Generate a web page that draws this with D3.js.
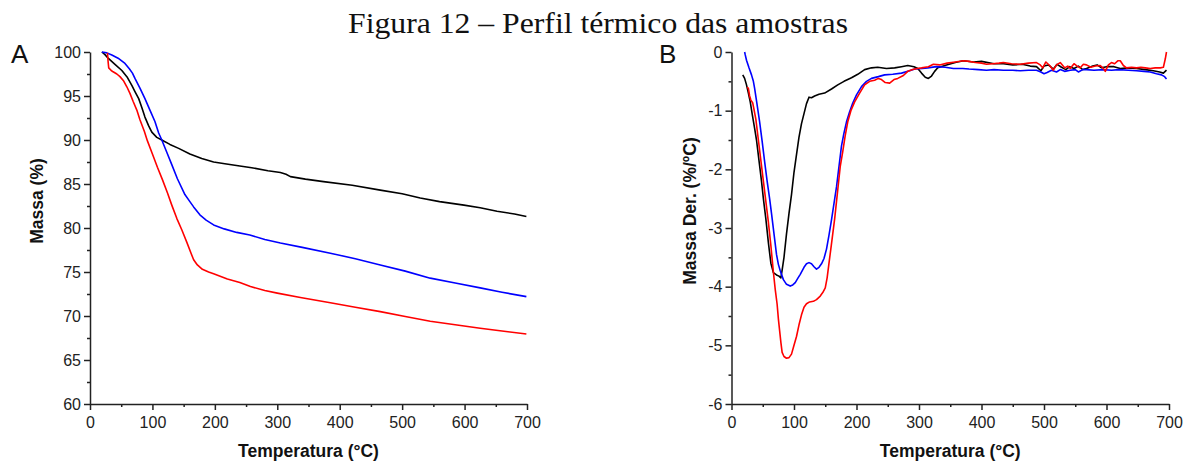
<!DOCTYPE html>
<html>
<head>
<meta charset="utf-8">
<script src="https://cdn.jsdelivr.net/npm/d3@7"></script>
<style>
    body { margin: 0; background: #fff; }
    .axis path, .axis line { stroke: #222; stroke-width: 1.5px; }
    .axis text { font-family: "Liberation Sans", Arial, sans-serif; font-size: 16px; fill: #222; }
    .label { font-family: "Liberation Sans", Arial, sans-serif; font-weight: bold; font-size: 17.5px; fill: #111; }
    .panel { font-family: "Liberation Sans", Arial, sans-serif; font-size: 26px; fill: #111; }
    .title { font-family: "Liberation Serif", "Times New Roman", serif; font-size: 30px; fill: #111; }
</style>
</head>
<body>
<div id="chart"></div>
<script>
// temperature axis (°C)
var tempTicks = [0, 100, 200, 300, 400, 500, 600, 700];
var tempMinor = [50, 150, 250, 350, 450, 550, 650];
var massTicks = [60, 65, 70, 75, 80, 85, 90, 95, 100];
var massMinor = [62.5, 67.5, 72.5, 77.5, 82.5, 87.5, 92.5, 97.5];
var derTicks = [-6, -5, -4, -3, -2, -1, 0];
var derMinor = [-5.5, -4.5, -3.5, -2.5, -1.5, -0.5];

// A: TG curves, [temperature, mass %]
var blackTG = [[19,100],[24,99.7],[29,99.3],[40,98.6],[51,97.9],[60,97.1],[67,96.2],[72,95.5],[78,94.7],[83,93.7],[88,92.6],[94,91.6],[99,90.9],[107,90.3],[115,90.0],[128,89.5],[142,89.05],[160,88.4],[179,87.9],[198,87.5],[216,87.3],[240,87.05],[259,86.85],[285,86.5],[305,86.3],[314,86.1],[321,85.84],[345,85.55],[374,85.27],[420,84.85],[465,84.3],[500,83.9],[529,83.4],[560,83.0],[599,82.6],[625,82.3],[652,81.9],[680,81.6],[699,81.3]];
var blueTG = [[19,100],[27,99.9],[35,99.65],[45,99.3],[56,98.7],[63,98.1],[68,97.6],[72,97.0],[80,95.9],[88,94.7],[96,93.4],[104,92.1],[110,90.8],[115,90.0],[123,88.6],[131,87.2],[140,85.6],[152,83.8],[160,83.0],[166,82.4],[176,81.5],[186,80.9],[198,80.35],[215,79.9],[235,79.5],[256,79.2],[280,78.7],[305,78.3],[340,77.8],[385,77.14],[425,76.5],[465,75.8],[505,75.1],[545,74.3],[585,73.75],[625,73.2],[660,72.7],[699,72.2]];
var redTG = [[28,99.9],[29,98.9],[30,98.2],[34,97.9],[37,97.75],[43,97.5],[48,97.2],[54,96.7],[59,96.05],[64,95.3],[69,94.4],[75,93.4],[80,92.3],[87,91.0],[92,89.9],[100,88.4],[108,86.9],[116,85.5],[124,84.0],[131,82.6],[139,81.1],[147,79.8],[155,78.4],[162,77.1],[166,76.4],[172,75.8],[180,75.3],[190,75.0],[198,74.8],[220,74.2],[240,73.8],[257,73.35],[280,72.9],[300,72.6],[337,72.1],[385,71.5],[425,71.0],[465,70.5],[505,69.95],[545,69.4],[585,69.0],[625,68.6],[660,68.3],[699,67.95]];

// B: DTG curves, [temperature, %/ºC]
var blackDTG = [[18,-0.39],[21,-0.45],[24,-0.56],[27,-0.7],[30,-0.85],[33,-1.05],[37,-1.3],[40,-1.5],[44,-1.85],[48,-2.2],[51,-2.5],[55,-2.85],[59,-3.25],[63,-3.6],[67,-3.76],[72,-3.8],[76,-3.82],[79,-3.85],[81,-3.72],[84,-3.5],[88,-3.1],[92,-2.75],[96,-2.43],[100,-2.05],[104,-1.75],[108,-1.45],[112,-1.22],[116,-1.05],[120,-0.88],[124,-0.77],[128,-0.78],[133,-0.75],[140,-0.72],[149,-0.7],[160,-0.63],[170,-0.56],[180,-0.5],[192,-0.44],[202,-0.38],[213,-0.3],[224,-0.27],[234,-0.26],[248,-0.28],[261,-0.27],[272,-0.25],[282,-0.23],[292,-0.25],[298,-0.28],[304,-0.36],[310,-0.43],[315,-0.45],[320,-0.41],[325,-0.33],[330,-0.27],[344,-0.22],[358,-0.18],[371,-0.15],[387,-0.17],[400,-0.16],[420,-0.2],[435,-0.2],[450,-0.22],[465,-0.21],[478,-0.24],[488,-0.25],[495,-0.32],[500,-0.24],[507,-0.22],[515,-0.29],[521,-0.21],[528,-0.26],[535,-0.3],[541,-0.25],[548,-0.28],[555,-0.24],[562,-0.3],[568,-0.28],[578,-0.24],[585,-0.22],[592,-0.27],[600,-0.25],[612,-0.25],[622,-0.28],[635,-0.27],[648,-0.28],[662,-0.3],[675,-0.32],[685,-0.34],[691,-0.36],[696,-0.31]];
var blueDTG = [[21,0.0],[22,-0.05],[24,-0.14],[28,-0.27],[32,-0.39],[35,-0.5],[37,-0.62],[41,-0.9],[45,-1.19],[49,-1.52],[53,-1.87],[57,-2.2],[61,-2.5],[64,-2.75],[68,-3.1],[72,-3.45],[75,-3.62],[78,-3.73],[83,-3.88],[88,-3.96],[94,-3.99],[98,-3.97],[102,-3.93],[106,-3.86],[110,-3.79],[116,-3.67],[120,-3.61],[124,-3.59],[128,-3.61],[132,-3.66],[136,-3.7],[140,-3.67],[144,-3.61],[148,-3.52],[152,-3.36],[156,-3.12],[160,-2.86],[164,-2.58],[168,-2.3],[172,-1.95],[176,-1.6],[180,-1.38],[184,-1.19],[189,-1.02],[194,-0.87],[200,-0.73],[208,-0.59],[216,-0.5],[224,-0.45],[235,-0.42],[245,-0.39],[258,-0.38],[272,-0.36],[285,-0.32],[293,-0.29],[305,-0.28],[314,-0.27],[328,-0.25],[342,-0.26],[355,-0.28],[370,-0.28],[380,-0.29],[395,-0.3],[408,-0.31],[420,-0.3],[435,-0.31],[450,-0.31],[462,-0.32],[475,-0.31],[488,-0.31],[495,-0.34],[500,-0.37],[505,-0.35],[512,-0.31],[520,-0.34],[526,-0.3],[533,-0.33],[542,-0.31],[550,-0.3],[555,-0.34],[562,-0.3],[568,-0.3],[580,-0.31],[595,-0.3],[608,-0.31],[620,-0.3],[635,-0.31],[648,-0.32],[660,-0.33],[670,-0.34],[680,-0.37],[688,-0.39],[693,-0.42],[696,-0.46]];
var redDTG = [[25,-0.6],[27,-0.62],[29,-0.75],[31,-0.82],[34,-0.87],[36,-0.98],[39,-1.15],[43,-1.5],[47,-1.85],[51,-2.2],[55,-2.55],[59,-2.9],[63,-3.3],[67,-3.75],[70,-4.05],[73,-4.3],[75,-4.55],[77,-4.75],[79,-4.95],[81,-5.12],[84,-5.19],[88,-5.22],[92,-5.21],[96,-5.15],[100,-5.0],[104,-4.85],[108,-4.65],[112,-4.48],[116,-4.35],[120,-4.29],[125,-4.26],[131,-4.25],[136,-4.22],[142,-4.16],[146,-4.1],[150,-4.02],[153,-3.85],[156,-3.6],[159,-3.35],[162,-3.1],[165,-2.85],[168,-2.55],[171,-2.25],[174,-1.95],[178,-1.7],[182,-1.42],[186,-1.19],[191,-1.0],[197,-0.85],[205,-0.7],[213,-0.56],[221,-0.5],[229,-0.48],[235,-0.45],[240,-0.47],[246,-0.52],[253,-0.53],[260,-0.47],[266,-0.45],[275,-0.4],[282,-0.33],[290,-0.3],[297,-0.28],[304,-0.27],[315,-0.25],[323,-0.21],[333,-0.22],[345,-0.19],[358,-0.17],[371,-0.15],[380,-0.16],[390,-0.18],[400,-0.19],[408,-0.21],[418,-0.2],[428,-0.19],[435,-0.18],[448,-0.2],[462,-0.21],[475,-0.19],[488,-0.18],[494,-0.22],[498,-0.27],[503,-0.17],[509,-0.23],[515,-0.31],[520,-0.22],[526,-0.18],[533,-0.27],[538,-0.24],[542,-0.28],[548,-0.2],[553,-0.24],[558,-0.27],[563,-0.21],[568,-0.22],[575,-0.26],[582,-0.24],[590,-0.23],[595,-0.28],[598,-0.33],[603,-0.22],[608,-0.18],[613,-0.2],[618,-0.15],[622,-0.15],[627,-0.23],[632,-0.27],[640,-0.26],[648,-0.27],[655,-0.26],[662,-0.27],[670,-0.28],[678,-0.27],[686,-0.27],[691,-0.26],[694,-0.12],[696,0.0]];

var svg = d3.select('#chart')
    .append('svg')
    .attr('width', 1191)
    .attr('height', 466);

svg.append('text')
    .attr('class', 'title')
    .attr('x', 598)
    .attr('y', 33)
    .attr('text-anchor', 'middle')
    .attr('textLength', 500)
    .attr('lengthAdjust', 'spacingAndGlyphs')
    .text('Figura 12 \u2013 Perfil t\u00e9rmico das amostras');

function drawPanel(p) {
    var x = d3.scaleLinear().domain([0, 700]).range([p.left, p.right]);
    var y = d3.scaleLinear().domain(p.yDomain).range([404, 52]);
    var fmt = function (d) { return String(d); };

    // minor ticks first
    svg.append('g')
        .attr('class', 'axis')
        .attr('transform', 'translate(0,404)')
        .call(d3.axisBottom(x).tickValues(tempMinor).tickSize(3).tickSizeOuter(0).tickFormat(''))
        .select('path').remove();
    svg.append('g')
        .attr('class', 'axis')
        .attr('transform', 'translate(' + p.left + ',0)')
        .call(d3.axisLeft(y).tickValues(p.yMinor).tickSize(3).tickSizeOuter(0).tickFormat(''))
        .select('path').remove();

    svg.append('g')
        .attr('class', 'axis')
        .attr('transform', 'translate(0,404)')
        .call(d3.axisBottom(x).tickValues(tempTicks).tickSize(6).tickSizeOuter(0).tickPadding(7).tickFormat(fmt));

    svg.append('g')
        .attr('class', 'axis')
        .attr('transform', 'translate(' + p.left + ',0)')
        .call(d3.axisLeft(y).tickValues(p.yTicks).tickSize(6).tickSizeOuter(0).tickPadding(3).tickFormat(fmt));

    var line = d3.line()
        .x(function (d) { return x(d[0]); })
        .y(function (d) { return y(d[1]); });

    p.series.forEach(function (s) {
        svg.append('path')
            .datum(s.data)
            .attr('fill', 'none')
            .attr('stroke', s.color)
            .attr('stroke-width', 1.6)
            .attr('stroke-linejoin', 'round')
            .attr('d', line);
    });

    svg.append('text')
        .attr('class', 'label')
        .attr('x', (p.left + p.right) / 2)
        .attr('y', 457)
        .attr('text-anchor', 'middle')
        .text('Temperatura (\u00b0C)');

    svg.append('text')
        .attr('class', 'label')
        .attr('transform', 'translate(' + p.yLabelX + ',' + p.yLabelY + ') rotate(-90)')
        .attr('text-anchor', 'middle')
        .text(p.yLabel);

    svg.append('text')
        .attr('class', 'panel')
        .attr('x', p.letterX)
        .attr('y', 63)
        .text(p.letter);
}

drawPanel({
    left: 90, right: 527,
    yDomain: [60, 100], yTicks: massTicks, yMinor: massMinor,
    yLabel: 'Massa (%)', yLabelX: 43, yLabelY: 201,
    letter: 'A', letterX: 11,
    series: [
        {data: blackTG, color: '#000'},
        {data: blueTG, color: '#0000ff'},
        {data: redTG, color: '#ff0000'}
    ]
});

drawPanel({
    left: 731.5, right: 1169,
    yDomain: [-6, 0], yTicks: derTicks, yMinor: derMinor,
    yLabel: 'Massa Der. (%/\u00baC)', yLabelX: 696, yLabelY: 211,
    letter: 'B', letterX: 659,
    series: [
        {data: blackDTG, color: '#000'},
        {data: blueDTG, color: '#0000ff'},
        {data: redDTG, color: '#ff0000'}
    ]
});
</script>
</body>
</html>
